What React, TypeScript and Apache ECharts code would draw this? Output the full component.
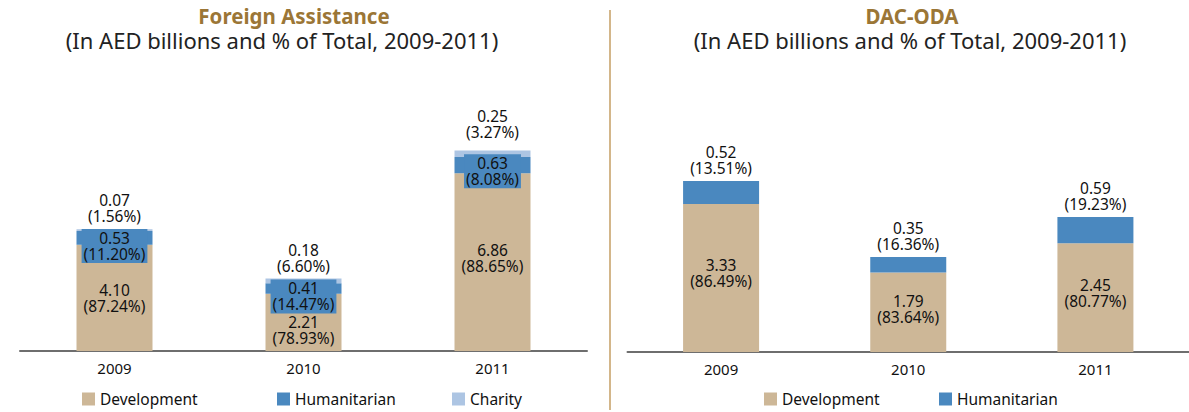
import React, { useEffect, useRef } from "react";
import * as echarts from "echarts";

const years = ["2009", "2010", "2011"];
// Foreign Assistance (AED billions, % of total)
const faDev = [4.1, 2.21, 6.86];
const faDevPct = [87.24, 78.93, 88.65];
const faHum = [0.53, 0.41, 0.63];
const faHumPct = [11.2, 14.47, 8.08];
const faChar = [0.07, 0.18, 0.25];
const faCharPct = [1.56, 6.6, 3.27];
// DAC-ODA
const odaDev = [3.33, 1.79, 2.45];
const odaDevPct = [86.49, 83.64, 80.77];
const odaHum = [0.52, 0.35, 0.59];
const odaHumPct = [13.51, 16.36, 19.23];

const titleLeft = "Foreign Assistance";
const titleRight = "DAC-ODA";
const subtitle = "(In AED billions and % of Total, 2009-2011)";

const FONT = "'Noto Sans', sans-serif";
const C_DEV = "#cdb797";
const C_HUM = "#4a88bf";
const C_CHAR = "#adc5e3";
const C_TITLE = "#9b7636";

const fmt = (pct: number[]) => (p: any) =>
  `${Number(p.value).toFixed(2)}\n(${pct[p.dataIndex].toFixed(2)}%)`;

const baseLabel = {
  show: true,
  color: "#111",
  fontSize: 15.5,
  lineHeight: 16,
  fontFamily: FONT,
};

function withLabels(values: number[], labels: any[]) {
  return values.map((v, i) => ({ value: v, label: labels[i] }));
}

export default function App() {
  const ref = useRef<HTMLDivElement>(null);
  useEffect(() => {
    if (!ref.current) return;
    const chart = echarts.init(ref.current, undefined, { renderer: "svg" });
    const xAxisCommon = {
      type: "category" as const,
      data: years,
      axisLine: { show: true, lineStyle: { color: "#6e6e6e", width: 2 } },
      axisTick: { show: false },
      axisLabel: { color: "#111", fontSize: 15, fontFamily: FONT, margin: 9 },
    };
    const yAxisCommon = {
      type: "value" as const,
      min: 0,
      show: false,
      splitLine: { show: false },
    };
    chart.setOption({
      animation: false,
      textStyle: { fontFamily: FONT },
      grid: [
        { left: 20, width: 567, top: 92, height: 259 },
        { left: 627.5, width: 567, top: 93, height: 259 },
      ],
      xAxis: [
        { ...xAxisCommon, gridIndex: 0 },
        { ...xAxisCommon, gridIndex: 1 },
      ],
      yAxis: [
        { ...yAxisCommon, gridIndex: 0, max: 10 },
        { ...yAxisCommon, gridIndex: 1, max: 5.83 },
      ],
      legend: [
        { data: ["Development"], left: 77, top: 386 },
        { data: ["Humanitarian"], left: 272, top: 386 },
        { data: ["Charity"], left: 447, top: 386 },
        { data: ["Development"], left: 759, top: 386 },
        { data: ["Humanitarian"], left: 934, top: 386 },
      ].map((l) => ({
        ...l,
        itemWidth: 13,
        itemHeight: 13,
        itemGap: 6,
        icon: "rect",
        selectedMode: false,
        textStyle: { color: "#111", fontSize: 15.5, fontFamily: FONT },
      })),
      graphic: [
        {
          type: "line",
          shape: { x1: 610, y1: 10, x2: 610, y2: 410 },
          style: { stroke: "#d3b68a", lineWidth: 2 },
        },
        {
          type: "text",
          x: 294,
          y: 5,
          style: {
            text: titleLeft,
            textAlign: "center",
            fill: C_TITLE,
            fontSize: 20.5,
            fontWeight: "bold",
            fontFamily: FONT,
          },
        },
        {
          type: "text",
          x: 282,
          y: 29,
          style: {
            text: subtitle,
            textAlign: "center",
            fill: "#222",
            fontSize: 22,
            fontFamily: FONT,
          },
        },
        {
          type: "text",
          x: 912,
          y: 5,
          style: {
            text: titleRight,
            textAlign: "center",
            fill: C_TITLE,
            fontSize: 20.5,
            fontWeight: "bold",
            fontFamily: FONT,
          },
        },
        {
          type: "text",
          x: 910,
          y: 29,
          style: {
            text: subtitle,
            textAlign: "center",
            fill: "#222",
            fontSize: 22,
            fontFamily: FONT,
          },
        },
      ],
      series: [
        {
          name: "Development",
          type: "bar",
          stack: "fa",
          xAxisIndex: 0,
          yAxisIndex: 0,
          barWidth: 76,
          itemStyle: { color: C_DEV },
          label: { ...baseLabel, position: "inside", formatter: fmt(faDevPct) },
          data: withLabels(faDev, [
            { offset: [0, 0] },
            { offset: [0, 8] },
            { offset: [0, -4] },
          ]),
        },
        {
          name: "Humanitarian",
          type: "bar",
          stack: "fa",
          xAxisIndex: 0,
          yAxisIndex: 0,
          barWidth: 76,
          itemStyle: { color: C_HUM },
          label: {
            ...baseLabel,
            position: "inside",
            backgroundColor: C_HUM,
            padding: [0, 2, 2, 2],
            formatter: fmt(faHumPct),
          },
          data: withLabels(faHum, [
            { offset: [0, 8] },
            { offset: [0, 8] },
            { offset: [0, 6] },
          ]),
        },
        {
          name: "Charity",
          type: "bar",
          stack: "fa",
          xAxisIndex: 0,
          yAxisIndex: 0,
          barWidth: 76,
          itemStyle: { color: C_CHAR },
          label: { ...baseLabel, position: "top", formatter: fmt(faCharPct) },
          data: withLabels(faChar, [
            { distance: 5 },
            { distance: 4 },
            { distance: 11 },
          ]),
        },
        {
          name: "Development",
          type: "bar",
          stack: "oda",
          xAxisIndex: 1,
          yAxisIndex: 1,
          barWidth: 76,
          itemStyle: { color: C_DEV },
          label: { ...baseLabel, position: "inside", formatter: fmt(odaDevPct) },
          data: withLabels(odaDev, [
            { offset: [0, -5] },
            { offset: [0, -3] },
            { offset: [0, -5] },
          ]),
        },
        {
          name: "Humanitarian",
          type: "bar",
          stack: "oda",
          xAxisIndex: 1,
          yAxisIndex: 1,
          barWidth: 76,
          itemStyle: { color: C_HUM },
          label: { ...baseLabel, position: "top", distance: 5, formatter: fmt(odaHumPct) },
          data: odaHum,
        },
      ],
    });
    return () => chart.dispose();
  }, []);
  return (
    <div
      ref={ref}
      style={{ position: "absolute", left: 0, top: 0, width: 1189, height: 412, background: "#fff" }}
    />
  );
}
